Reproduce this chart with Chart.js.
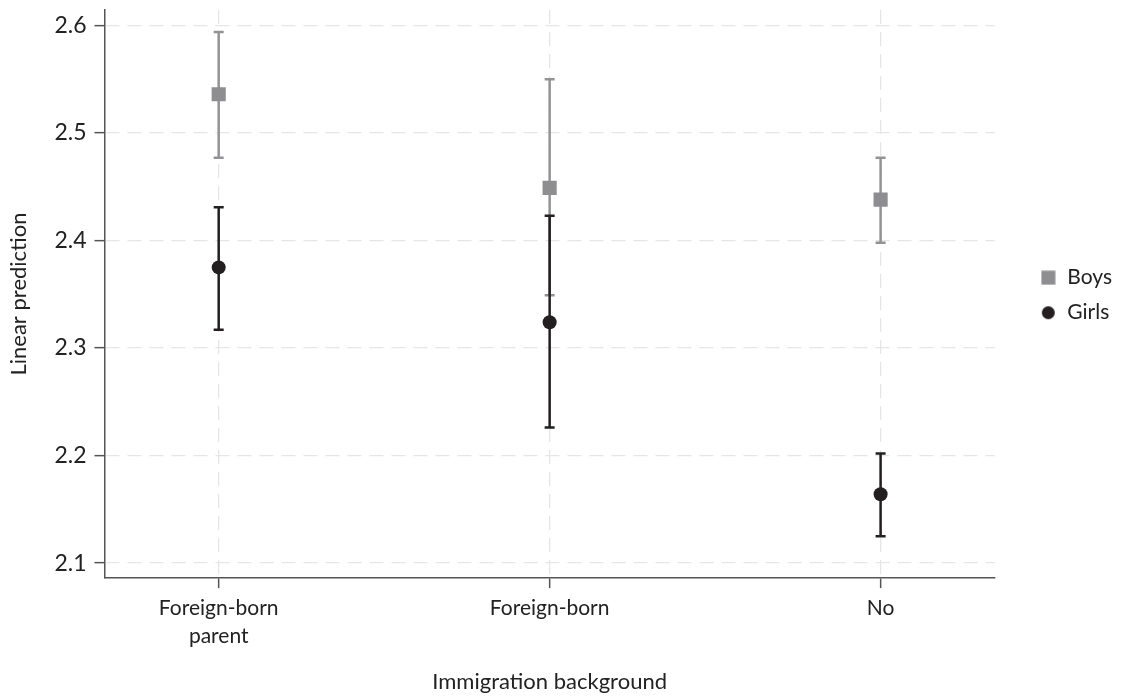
<!DOCTYPE html>
<html>
<head>
<meta charset="utf-8">
<script src="https://cdn.jsdelivr.net/npm/chart.js@4.4.0/dist/chart.umd.min.js"></script>
<style>
  html, body { margin: 0; padding: 0; background: #fff; }
  .chart_container { width: 1126px; height: 698px; }
</style>
</head>
<body>
<div class="chart_container"><canvas id="myChart"></canvas></div>
<script>
// values
const categories = [['Foreign-born', 'parent'], 'Foreign-born', 'No'];
const boysMean = [2.536, 2.449, 2.438];
const boysLow = [2.477, 2.349, 2.398];
const boysHigh = [2.594, 2.550, 2.477];
const girlsMean = [2.375, 2.324, 2.164];
const girlsLow = [2.317, 2.226, 2.125];
const girlsHigh = [2.431, 2.423, 2.202];
const yTicks = [2.1, 2.2, 2.3, 2.4, 2.5, 2.6];

let boysColor = '#8e8e91', boysBarColor = '#939396', girlsColor = '#231f20';

Chart.defaults.font.family = 'Lato';
Chart.defaults.color = '#222';

// small canvases used as legend markers
function legendMarker(kind, color) {
    const c = document.createElement('canvas');
    c.width = 15; c.height = 15;
    const g = c.getContext('2d');
    g.fillStyle = color;
    if (kind === 'rect') {
        g.fillRect(0.5, 0.5, 14, 14);
    } else {
        g.beginPath();
        g.arc(7.5, 7.5, 6.5, 0, Math.PI * 2);
        g.fill();
    }
    return c;
}

const errorBars = {
    id: 'errorBars',
    beforeDatasetsDraw(chart) {
        const { ctx, scales: { x, y } } = chart;
        chart.data.datasets.forEach((ds) => {
            ctx.save();
            ctx.strokeStyle = ds.barColor;
            ctx.lineWidth = 2.5;
            ds.low.forEach((lo, i) => {
                const px = x.getPixelForValue(i);
                const yLo = y.getPixelForValue(lo);
                const yHi = y.getPixelForValue(ds.high[i]);
                ctx.beginPath();
                ctx.moveTo(px, yLo);
                ctx.lineTo(px, yHi);
                ctx.moveTo(px - 5, yLo);
                ctx.lineTo(px + 5, yLo);
                ctx.moveTo(px - 5, yHi);
                ctx.lineTo(px + 5, yHi);
                ctx.stroke();
            });
            ctx.restore();
        });
    }
};

// legend sits a little right of the plot and centred on the plot area
const legendShift = {
    id: 'legendShift',
    afterLayout(chart) {
        const lg = chart.legend;
        lg.left += 31;
        lg.right += 31;
        lg.top -= 57;
        lg.bottom -= 57;
    }
};

const data = {
    datasets: [{
        label: 'Boys',
        data: boysMean.map((v, i) => ({ x: i, y: v })),
        low: boysLow,
        high: boysHigh,
        barColor: boysBarColor,
        pointStyle: 'rect',
        pointRadius: 10,
        backgroundColor: boysColor,
        borderWidth: 0,
        legendMarker: legendMarker('rect', boysColor)
    }, {
        label: 'Girls',
        data: girlsMean.map((v, i) => ({ x: i, y: v })),
        low: girlsLow,
        high: girlsHigh,
        barColor: girlsColor,
        pointStyle: 'circle',
        pointRadius: 7,
        backgroundColor: girlsColor,
        borderWidth: 0,
        legendMarker: legendMarker('circle', girlsColor)
    }]
};

const gridOpts = {
    color: '#e6e6e6',
    lineWidth: 1.3,
    tickColor: '#555',
    tickLength: 10,
    tickWidth: 1.5,
    tickBorderDash: []
};

const config = {
    type: 'scatter',
    data,
    plugins: [errorBars, legendShift],
    options: {
        responsive: true,
        maintainAspectRatio: false,
        animation: false,
        layout: { padding: { top: 9, right: 35, bottom: 2.6, left: 6 } },
        plugins: {
            tooltip: { enabled: false },
            legend: {
                position: 'right',
                labels: {
                    usePointStyle: true,
                    boxWidth: 17,
                    boxHeight: 17,
                    padding: 14,
                    color: '#222',
                    font: { size: 21 },
                    generateLabels(chart) {
                        return chart.data.datasets.map((ds, i) => ({
                            text: ds.label,
                            pointStyle: ds.legendMarker,
                            fillStyle: ds.backgroundColor,
                            strokeStyle: ds.backgroundColor,
                            lineWidth: 0,
                            fontColor: '#222',
                            datasetIndex: i
                        }));
                    }
                }
            }
        },
        scales: {
            x: {
                type: 'linear',
                min: -0.345,
                max: 2.345,
                afterBuildTicks(scale) {
                    scale.ticks = categories.map((c, i) => ({ value: i }));
                },
                ticks: {
                    callback: (v) => categories[v],
                    font: { size: 21, lineHeight: 1.33 },
                    color: '#222',
                    padding: 6,
                    maxRotation: 0
                },
                grid: gridOpts,
                border: { color: '#555', width: 1.5, dash: [14, 8] },
                title: {
                    display: true,
                    text: 'Immigration background',
                    font: { size: 22 },
                    color: '#222',
                    padding: { top: 13, bottom: 0 }
                }
            },
            y: {
                min: 2.086,
                max: 2.6144,
                afterBuildTicks(scale) {
                    scale.ticks = yTicks.map((v) => ({ value: v }));
                },
                afterFit(scale) {
                    scale.paddingTop = 0;
                    scale.paddingBottom = 0;
                },
                ticks: {
                    callback: (v) => v.toFixed(1),
                    font: { size: 23 },
                    color: '#222',
                    padding: 8
                },
                grid: gridOpts,
                border: { color: '#555', width: 1.5, dash: [14, 8] },
                title: {
                    display: true,
                    text: 'Linear prediction',
                    font: { size: 22 },
                    color: '#222',
                    padding: { top: 0, bottom: 14 }
                }
            }
        }
    }
};

const myChart = new Chart(document.getElementById('myChart'), config);
</script>
</body>
</html>
